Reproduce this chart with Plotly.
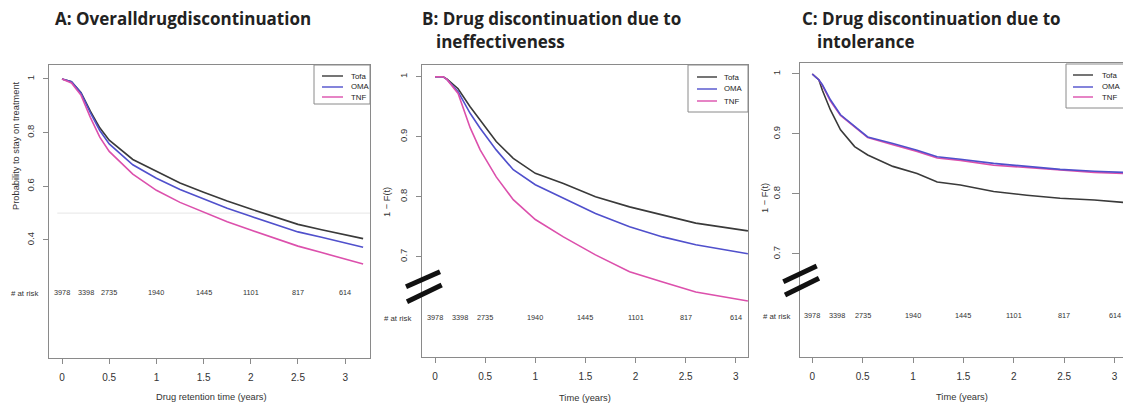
import plotly.graph_objects as go

# ---------------- data ----------------
series_names = ["Tofa", "OMA", "TNF"]
series_colors = ["#3a3a3a", "#5050cc", "#dc50ac"]

# Panel A: overall drug discontinuation
a_time = [0, 0.1, 0.2, 0.3, 0.4, 0.5, 0.75, 1.0, 1.25, 1.5, 1.75, 2.0, 2.25, 2.5, 2.75, 3.0, 3.19]
a_tofa = [1, 0.99, 0.95, 0.88, 0.818, 0.772, 0.70, 0.655, 0.612, 0.578, 0.545, 0.515, 0.487, 0.458, 0.438, 0.420, 0.405]
a_oma = [1, 0.99, 0.948, 0.874, 0.808, 0.758, 0.68, 0.63, 0.588, 0.553, 0.518, 0.488, 0.460, 0.430, 0.410, 0.390, 0.373]
a_tnf = [1, 0.985, 0.94, 0.857, 0.783, 0.73, 0.645, 0.585, 0.540, 0.503, 0.468, 0.437, 0.407, 0.377, 0.353, 0.330, 0.310]

# Panel B: discontinuation due to ineffectiveness
b_time = [0, 0.08, 0.12, 0.23, 0.35, 0.45, 0.61, 0.78, 1.0, 1.28, 1.6, 1.94, 2.27, 2.6, 3.12]
b_tofa = [1, 1, 0.996, 0.98, 0.95, 0.928, 0.892, 0.864, 0.839, 0.822, 0.800, 0.783, 0.770, 0.756, 0.743]
b_oma = [1, 1, 0.995, 0.975, 0.939, 0.914, 0.878, 0.845, 0.820, 0.797, 0.772, 0.750, 0.733, 0.720, 0.705]
b_tnf = [1, 1, 0.995, 0.972, 0.915, 0.878, 0.833, 0.795, 0.762, 0.733, 0.703, 0.675, 0.658, 0.641, 0.626]

# Panel C: discontinuation due to intolerance
c_time = [0, 0.066, 0.1, 0.18, 0.28, 0.42, 0.55, 0.8, 1.04, 1.24, 1.47, 1.8, 2.13, 2.46, 2.8, 3.09]
c_tofa = [1, 0.99, 0.973, 0.94, 0.907, 0.879, 0.865, 0.846, 0.834, 0.820, 0.815, 0.804, 0.798, 0.793, 0.790, 0.786]
c_oma = [1, 0.99, 0.982, 0.957, 0.932, 0.912, 0.895, 0.884, 0.873, 0.862, 0.858, 0.851, 0.846, 0.841, 0.838, 0.836]
c_tnf = [1, 0.99, 0.981, 0.955, 0.931, 0.911, 0.894, 0.882, 0.871, 0.860, 0.856, 0.848, 0.844, 0.839, 0.836, 0.834]

# Numbers at risk
risk_time = [0, 0.25, 0.5, 1, 1.5, 2, 2.5, 3]
risk_n = [3978, 3398, 2735, 1940, 1445, 1101, 817, 614]

x_ticks = [0, 0.5, 1, 1.5, 2, 2.5, 3]
x_ticklabels = ["0", "0.5", "1", "1.5", "2", "2.5", "3"]
a_yticks = [0.4, 0.6, 0.8, 1]
a_yticklabels = ["0.4", "0.6", "0.8", "1"]
bc_yticks = [0.7, 0.8, 0.9, 1]
bc_yticklabels = ["0.7", "0.8", "0.9", "1"]

titles = [
    ("A: Overalldrugdiscontinuation", None),
    ("B: Drug discontinuation due to", "ineffectiveness"),
    ("C: Drug discontinuation due to", "intolerance"),
]
x_titles = ["Drug retention time (years)", "Time (years)", "Time (years)"]
y_titles = ["Probability to stay on treatment", "1 \u2212 F(t)", "1 \u2212 F(t)"]

# ---------------- layout helpers ----------------
W, H = 1123, 407
def px(x):
    return x / W
def py(y):
    return 1 - y / H

FONT = "Liberation Sans, Arial, sans-serif"
AXCOL = "#8a8a8a"
TXT = "#333333"

fig = go.Figure()

panels = [
    dict(t=a_time, vals=[a_tofa, a_oma, a_tnf], xa="x", ya="y"),
    dict(t=b_time, vals=[b_tofa, b_oma, b_tnf], xa="x2", ya="y2"),
    dict(t=c_time, vals=[c_tofa, c_oma, c_tnf], xa="x3", ya="y3"),
]
orders = [[0, 1, 2], [0, 1, 2], [0, 2, 1]]
for p, order in zip(panels, orders):
    for i in order:
        fig.add_trace(go.Scatter(
            x=p["t"], y=p["vals"][i], mode="lines", name=series_names[i],
            line=dict(color=series_colors[i], width=1.6), showlegend=False,
            xaxis=p["xa"], yaxis=p["ya"], hoverinfo="skip"))

# axis geometry (pixels)
geom = [
    dict(x0=49, x1=370, y0=65, y1=358, xr=[-0.138, 3.263], yr=[-0.040, 1.052], yt=a_yticks, ytl=a_yticklabels,
         ylen=5, ystand=5, mirror_y=True),
    dict(x0=421.7, x1=748, y0=65, y1=357, xr=[-0.133, 3.121], yr=[0.5328, 1.0195], yt=bc_yticks, ytl=bc_yticklabels,
         ylen=5, ystand=5, mirror_y=True),
    dict(x0=800, x1=1123, y0=63.3, y1=356.7, xr=[-0.122, 3.084], yr=[0.5288, 1.0178], yt=bc_yticks, ytl=bc_yticklabels,
         ylen=7, ystand=8, mirror_y=False),
]

for k, g in enumerate(geom):
    sfx = "" if k == 0 else str(k + 1)
    fig.layout["xaxis" + sfx] = dict(
        domain=[px(g["x0"]), px(g["x1"])], range=g["xr"], anchor="y" + sfx,
        tickvals=x_ticks, ticktext=x_ticklabels, ticks="outside", ticklen=5, tickcolor=AXCOL,
        ticklabelstandoff=5, showline=True, linecolor=AXCOL, linewidth=1, mirror=True,
        showgrid=False, zeroline=False, tickfont=dict(family=FONT, size=10, color=TXT), fixedrange=True)
    fig.layout["yaxis" + sfx] = dict(
        domain=[py(g["y1"]), py(g["y0"])], range=g["yr"], anchor="x" + sfx,
        tickvals=g["yt"], ticktext=g["ytl"], ticks="outside", ticklen=g["ylen"], tickcolor=AXCOL,
        tickangle=-90, ticklabelstandoff=g["ystand"], showline=True, linecolor=AXCOL, linewidth=1,
        mirror=g["mirror_y"], showgrid=False, zeroline=False,
        tickfont=dict(family=FONT, size=9.5, color=TXT), fixedrange=True)

annotations = []
shapes = []

# panel titles
title_pos = [(53, 18, None, None), (420, 18, 434, 42), (800, 18, 815, 42)]
for (t1, t2), (x1, y1, x2, y2) in zip(titles, title_pos):
    annotations.append(dict(text="<b>%s</b>" % t1, x=px(x1), y=py(y1), xref="paper", yref="paper",
                            xanchor="left", yanchor="middle", showarrow=False,
                            font=dict(family="Open Sans, sans-serif", size=17, color="#222222")))
    if t2:
        annotations.append(dict(text="<b>%s</b>" % t2, x=px(x2), y=py(y2), xref="paper", yref="paper",
                                xanchor="left", yanchor="middle", showarrow=False,
                                font=dict(family="Open Sans, sans-serif", size=17, color="#222222")))

# axis titles
xt_pos = [(211, 396.5), (585, 397.5), (962, 396.5)]
for txt, (x, y) in zip(x_titles, xt_pos):
    annotations.append(dict(text=txt, x=px(x), y=py(y), xref="paper", yref="paper", showarrow=False,
                            xanchor="center", yanchor="middle", font=dict(family=FONT, size=9.3, color=TXT)))
yt_pos = [(16, 146), (387, 202), (765, 198)]
for txt, (x, y) in zip(y_titles, yt_pos):
    annotations.append(dict(text=txt, x=px(x), y=py(y), xref="paper", yref="paper", showarrow=False,
                            textangle=-90, xanchor="center", yanchor="middle",
                            font=dict(family=FONT, size=9.3, color=TXT)))

# numbers at risk
risk_level = [0.2025, 0.598, 0.598]
risk_label_pos = [(40, 293), (413, 318), (792, 316)]
for k in range(3):
    sfx = "" if k == 0 else str(k + 1)
    for tt, n in zip(risk_time, risk_n):
        annotations.append(dict(text=str(n), x=tt, y=risk_level[k], xref="x" + sfx, yref="y" + sfx,
                                showarrow=False, xanchor="center", yanchor="middle",
                                font=dict(family=FONT, size=7.3, color=TXT)))
    lx, ly = risk_label_pos[k]
    annotations.append(dict(text="# at risk", x=px(lx), y=py(ly), xref="paper", yref="paper",
                            showarrow=False, xanchor="right", yanchor="middle",
                            font=dict(family=FONT, size=7.8, color=TXT)))

# faint median line in panel A
shapes.append(dict(type="line", xref="x", yref="y", x0=-0.05, x1=3.263, y0=0.5, y1=0.5,
                   line=dict(color="#e6e6e6", width=1), layer="below"))

# custom legends (one per panel)
legend_geo = [
    dict(box=(314, 65, 370, 104), ys=(76, 87, 97), lx=(322, 343), tx=349),
    dict(box=(688, 65, 748, 112), ys=(77, 89, 101), lx=(697, 717), tx=722),
    dict(box=(1066, 64, 1130, 108), ys=(75, 87, 97), lx=(1073, 1093), tx=1100),
]
for lg in legend_geo:
    bx0, by0, bx1, by1 = lg["box"]
    shapes.append(dict(type="rect", xref="paper", yref="paper", x0=px(bx0), x1=px(bx1),
                       y0=py(by1), y1=py(by0), line=dict(color=AXCOL, width=1), fillcolor="white"))
    for name, col, yy in zip(series_names, series_colors, lg["ys"]):
        shapes.append(dict(type="line", xref="paper", yref="paper", x0=px(lg["lx"][0]), x1=px(lg["lx"][1]),
                           y0=py(yy), y1=py(yy), line=dict(color=col, width=1.4)))
        annotations.append(dict(text=name, x=px(lg["tx"]), y=py(yy), xref="paper", yref="paper",
                                showarrow=False, xanchor="left", yanchor="middle",
                                font=dict(family=FONT, size=7.8, color="#222222")))

# axis break marks (panels B and C)
breaks = [
    [((406, 286.7), (440, 271.7)), ((407, 301.7), (441.7, 285))],
    [((783.3, 281.7), (816.7, 266)), ((785, 295), (819, 278.3))],
]
for pair in breaks:
    for (x0, y0), (x1, y1) in pair:
        shapes.append(dict(type="line", xref="paper", yref="paper", x0=px(x0), y0=py(y0), x1=px(x1), y1=py(y1),
                           line=dict(color="#111111", width=5)))

fig.update_layout(width=W, height=H, margin=dict(l=0, r=0, t=0, b=0),
                  paper_bgcolor="white", plot_bgcolor="white",
                  annotations=annotations, shapes=shapes, showlegend=False)

# remove the page's default body margin so the figure fills the window exactly
fig.write_html("out.html", config={"displayModeBar": False}, post_script=(
    "document.documentElement.style.overflow='hidden';"
    "document.body.style.margin='0';document.body.style.overflow='hidden';"))
